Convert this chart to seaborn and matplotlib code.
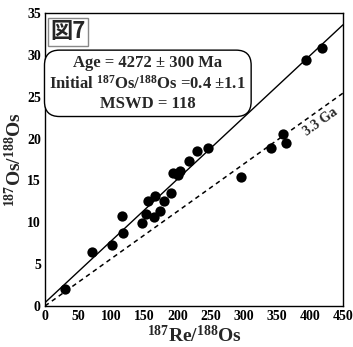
import numpy as np
import pandas as pd
import matplotlib
matplotlib.use("Agg")
import matplotlib.pyplot as plt
import seaborn as sns

# data
re_os = [30, 71.5, 101, 116, 118, 146, 152, 155, 164, 166, 173, 180, 190, 194,
         201.5, 204, 218, 229.5, 246, 296, 341, 360, 364, 394, 418]
os_os = [2.0, 6.4, 7.25, 10.7, 8.7, 9.95, 10.95, 12.6, 10.6, 13.1, 11.35, 12.6,
         13.5, 15.85, 15.65, 16.1, 17.35, 18.5, 18.85, 15.4, 18.9, 20.5, 19.5,
         29.4, 30.8]
iso_age_ma = 4272
iso_initial = 0.4
ref_age_ma = 3300
ref_initial = 0.0
decay_const = 1.666e-11
x_ticks = [0, 50, 100, 150, 200, 250, 300, 350, 400, 450]
y_ticks = [0, 5, 10, 15, 20, 25, 30, 35]

sns.set_theme(style="white")
plt.rcParams["font.family"] = ["Liberation Serif", "DejaVu Serif"]
plt.rcParams["mathtext.fontset"] = "custom"
plt.rcParams["mathtext.rm"] = "Liberation Serif:bold"
plt.rcParams["mathtext.bf"] = "Liberation Serif:bold"
plt.rcParams["mathtext.it"] = "Liberation Serif:bold"
plt.rcParams["mathtext.default"] = "bf"

fig = plt.figure(figsize=(3.53, 3.47), dpi=100)
ax = fig.add_axes([0.1275, 0.1182, 0.8442, 0.8443])

df = pd.DataFrame({"x": re_os, "y": os_os})
sns.scatterplot(data=df, x="x", y="y", ax=ax, color="black", s=55,
                edgecolor="black", linewidth=0, zorder=3)

xs = np.array([0, 450])
slope_iso = np.exp(decay_const * iso_age_ma * 1e6) - 1
slope_ref = np.exp(decay_const * ref_age_ma * 1e6) - 1
sns.lineplot(x=xs, y=iso_initial + slope_iso * xs, ax=ax, color="black", lw=1.0)
sns.lineplot(x=xs, y=ref_initial + slope_ref * xs, ax=ax, color="black", lw=1.1,
             linestyle=(0, (3, 2.5)))

ax.set_xlim(0, 450)
ax.set_ylim(0, 35)
ax.set_xticks(x_ticks)
ax.set_yticks(y_ticks)
ax.tick_params(axis="both", which="major", length=2, width=0.8, direction="out",
               pad=1, labelsize=10, colors="black")
for lbl in ax.get_xticklabels() + ax.get_yticklabels():
    lbl.set_fontweight("bold")
for sp in ax.spines.values():
    sp.set_color("black")
    sp.set_linewidth(1.0)

ax.set_xlabel(r"$^{187}$Re/$^{188}$Os", fontsize=14, fontweight="bold", labelpad=1)
ax.set_ylabel(r"$^{187}$Os/$^{188}$Os", fontsize=14, fontweight="bold", labelpad=1)

# angle for 3.3 Ga label
p1 = ax.transData.transform((300, slope_ref * 300))
p2 = ax.transData.transform((400, slope_ref * 400))
ang = np.degrees(np.arctan2(p2[1] - p1[1], p2[0] - p1[0]))
ax.text(411, slope_ref * 411 - 0.6, "3.3 Ga", rotation=ang, rotation_mode="anchor",
        ha="center", va="top", fontsize=10, fontweight="bold")

ax.text(0.018, 0.975, "図7", transform=ax.transAxes, ha="left", va="top",
        fontsize=16, fontweight="bold", family=["Noto Sans CJK JP", "DejaVu Sans"],
        bbox=dict(boxstyle="square,pad=0.12", fc="white", ec="#888888", lw=1.0))

ax.text(0.345, 0.76,
        "Age = 4272 ± 300 Ma\n"
        r"Initial $^{187}$Os/$^{188}$Os =0.4 ±1.1" "\n"
        "MSWD = 118",
        transform=ax.transAxes, ha="center", va="center", fontsize=12,
        fontweight="bold", linespacing=1.25,
        bbox=dict(boxstyle="round,pad=0.3,rounding_size=0.9", fc="white", ec="black", lw=1.0))

fig.savefig("out.png", dpi=100)
